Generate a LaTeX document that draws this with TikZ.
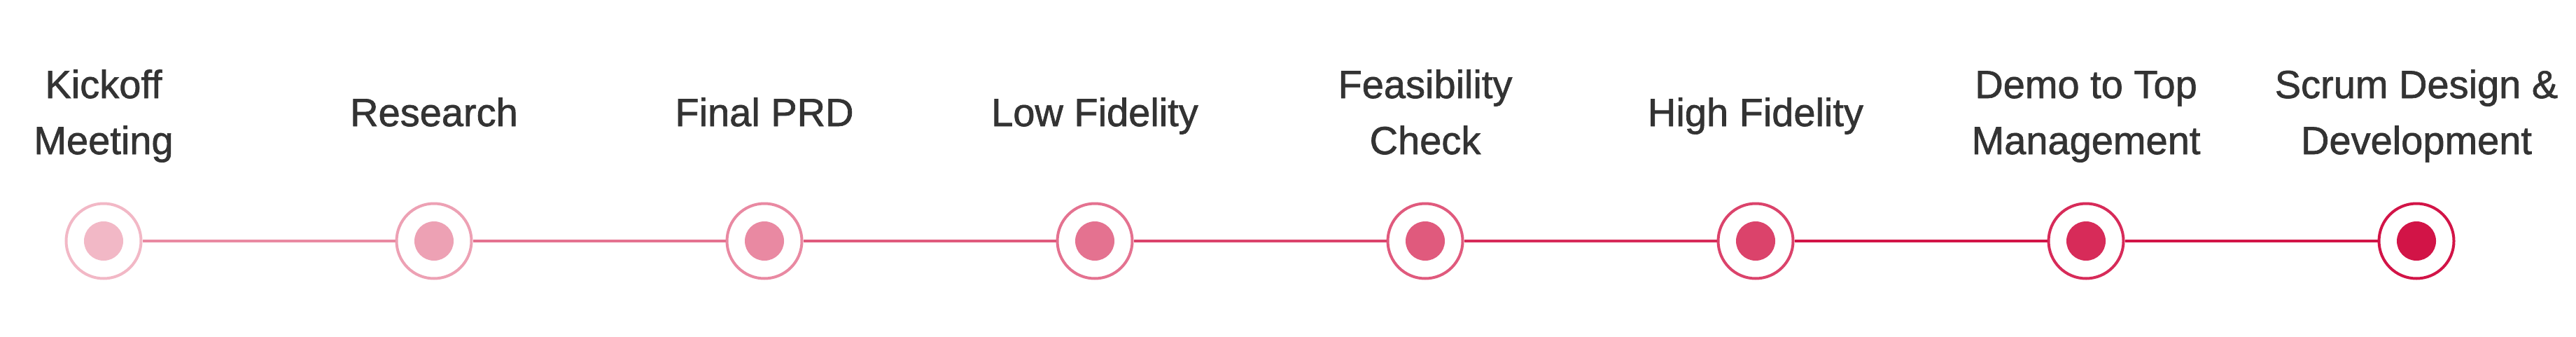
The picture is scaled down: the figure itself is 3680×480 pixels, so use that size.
\documentclass[tikz,border=0pt]{standalone}
\usepackage{fontspec}
\setmainfont{Liberation Sans}
\newfontfamily\labfont{Liberation Sans}[FakeBold=1.2]
\definecolor{cA}{HTML}{F2B8C6}
\definecolor{cZ}{HTML}{D21447}
\definecolor{txt}{HTML}{333333}
\colorlet{c1}{cZ!0!cA}
\colorlet{c2}{cZ!14.3!cA}
\colorlet{c3}{cZ!28.6!cA}
\colorlet{c4}{cZ!42.9!cA}
\colorlet{c5}{cZ!57.1!cA}
\colorlet{c6}{cZ!71.4!cA}
\colorlet{c7}{cZ!85.7!cA}
\colorlet{c8}{cZ!100!cA}
\tikzset{
  ring/.style={circle, draw=#1, line width=4pt, fill=white, minimum size=107pt, inner sep=0pt},
  dot/.style={circle, fill=#1, minimum size=56pt, inner sep=0pt, draw=none},
  seg/.style={draw=#1, line width=4pt},
  lab/.style={text=txt, font=\labfont\fontsize{56}{80}\selectfont, align=center, anchor=base, inner sep=0pt}
}
\begin{document}
\begin{tikzpicture}[x=1pt,y=-1pt]
\useasboundingbox (0,0) rectangle (3680,480);
\foreach \i/\x in {1/148,2/620,3/1092,4/1564,5/2036,6/2508,7/2980,8/3452}{
  \node[ring=c\i] (n\i) at (\x,344) {};
}
\draw[seg=c3] (n1) -- (n2);
\draw[seg=c4] (n2) -- (n3);
\draw[seg=c5] (n3) -- (n4);
\draw[seg=c6] (n4) -- (n5);
\draw[seg=c7] (n5) -- (n6);
\draw[seg=c8] (n6) -- (n7);
\draw[seg=c8] (n7) -- (n8);
\foreach \i in {1,...,8}{
  \node[dot=c\i] (d\i) at (n\i) {};
}
\node[lab] (t1) at (148,220) {Kickoff\\Meeting};
\node[lab] (t2) at (620,180) {Research};
\node[lab] (t3) at (1092,180) {Final PRD};
\node[lab] (t4) at (1564,180) {Low Fidelity};
\node[lab] (t5) at (2036,220) {Feasibility\\Check};
\node[lab] (t6) at (2508,180) {High Fidelity};
\node[lab] (t7) at (2980,220) {Demo to Top\\Management};
\node[lab] (t8) at (3452,220) {Scrum Design \&\\Development};
\end{tikzpicture}
\end{document}
